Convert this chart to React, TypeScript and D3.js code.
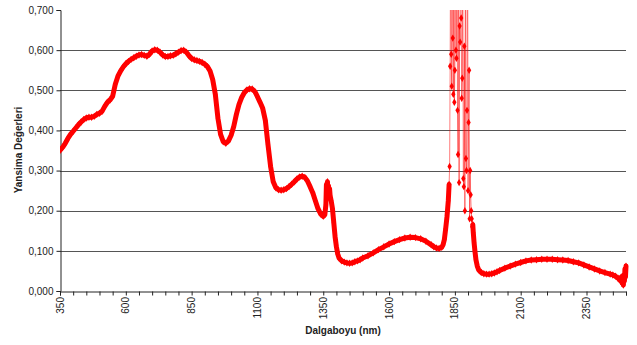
import { useEffect, useRef } from "react";
import * as d3 from "d3";

// reflectance spectrum
const mainNm = [
  350, 360, 370, 380, 390, 400, 410, 420, 430, 440, 450, 460, 470, 480, 490, 500, 510, 520, 530, 540,
  550, 560, 570, 580, 590, 600, 610, 620, 630, 640, 650, 660, 670, 680, 690, 700, 710, 720, 730, 740,
  750, 760, 770, 780, 790, 800, 810, 820, 830, 840, 850, 860, 870, 880, 890, 900, 910, 920, 930, 940,
  950, 960, 970, 980, 990, 1000, 1010, 1020, 1030, 1040, 1050, 1060, 1070, 1080, 1090, 1100, 1110, 1120,
  1130, 1140, 1150, 1160, 1170, 1180, 1190, 1200, 1210, 1220, 1230, 1240, 1250, 1260, 1270, 1280, 1290,
  1300, 1310, 1320, 1330, 1340, 1350, 1356, 1360, 1362, 1364, 1366, 1368, 1370, 1372, 1374, 1376, 1380,
  1385, 1390, 1395, 1400, 1405, 1410, 1420, 1430, 1440, 1450, 1460, 1470, 1480, 1490, 1500, 1520, 1540,
  1560, 1580, 1600, 1620, 1640, 1660, 1680, 1700, 1720, 1740, 1760, 1770, 1780, 1790, 1800, 1805, 1810,
  1815, 1820, 1825, 1828,
];
const mainVal = [
  0.35, 0.358, 0.368, 0.38, 0.39, 0.398, 0.406, 0.414, 0.421, 0.427, 0.431, 0.433, 0.433, 0.435, 0.44, 0.443, 0.448, 0.46, 0.47, 0.476,
  0.485, 0.515, 0.535, 0.548, 0.558, 0.566, 0.572, 0.577, 0.581, 0.585, 0.588, 0.589, 0.587, 0.585, 0.59, 0.598, 0.601, 0.6, 0.595, 0.588,
  0.584, 0.584, 0.586, 0.587, 0.591, 0.595, 0.599, 0.6, 0.595, 0.586, 0.579, 0.576, 0.574, 0.572, 0.569, 0.565, 0.559, 0.548, 0.527, 0.49,
  0.43, 0.39, 0.372, 0.368, 0.374, 0.388, 0.41, 0.44, 0.465, 0.482, 0.494, 0.501, 0.504, 0.503, 0.497, 0.484, 0.47, 0.455,
  0.425, 0.365, 0.31, 0.272, 0.257, 0.252, 0.251, 0.252, 0.255, 0.26, 0.266, 0.272, 0.279, 0.284, 0.286, 0.283, 0.274,
  0.26, 0.245, 0.225, 0.205, 0.192, 0.186, 0.19, 0.215, 0.265, 0.24, 0.272, 0.235, 0.262, 0.245, 0.255, 0.238, 0.225,
  0.205, 0.17, 0.135, 0.11, 0.092, 0.082, 0.075, 0.072, 0.07, 0.069, 0.07, 0.073, 0.075, 0.078, 0.082, 0.088, 0.095,
  0.103, 0.11, 0.117, 0.123, 0.128, 0.132, 0.134, 0.133, 0.13, 0.124, 0.115, 0.11, 0.107, 0.106, 0.109, 0.115, 0.128,
  0.155, 0.185, 0.225, 0.265,
];

// noisy water band around 1850 nm (goes off the top of the chart)
const noiseNm = [
  1828, 1830, 1832, 1834, 1836, 1838, 1840, 1842, 1844, 1846, 1848, 1850, 1852, 1854, 1856, 1858, 1860, 1862,
  1864, 1866, 1868, 1870, 1872, 1874, 1876, 1878, 1880, 1882, 1884, 1886, 1888, 1890, 1892, 1894, 1896, 1898,
  1900, 1902, 1904, 1906, 1908, 1910, 1912, 1914, 1916, 1918,
];
const noiseVal = [
  0.265, 0.31, 0.56, 0.95, 0.59, 0.51, 1.1, 0.63, 0.49, 0.9, 0.47, 0.55, 1.05, 0.6, 0.58, 0.88, 0.45, 0.34,
  0.98, 0.27, 0.66, 0.62, 1.2, 0.68, 0.48, 0.53, 0.92, 0.28, 0.26, 0.61, 0.2, 0.95, 0.33, 0.3, 0.45, 1.1,
  0.25, 0.42, 0.55, 0.18, 0.3, 0.24, 0.2, 0.18, 0.16, 0.165,
];

const tailNm = [
  1918, 1920, 1923, 1926, 1930, 1935, 1940, 1950, 1960, 1970, 1980, 1990, 2000, 2010, 2020, 2040, 2060, 2080,
  2100, 2120, 2140, 2160, 2180, 2200, 2220, 2240, 2260, 2280, 2300, 2320, 2340, 2360, 2380, 2400, 2420, 2440,
  2450, 2460, 2470, 2478, 2482, 2485, 2488, 2490, 2492, 2494, 2496, 2498, 2500,
];
const tailVal = [
  0.165, 0.145, 0.12, 0.1, 0.078, 0.062, 0.053, 0.046, 0.043, 0.042, 0.042, 0.043, 0.045, 0.048, 0.051, 0.057, 0.062, 0.067,
  0.071, 0.075, 0.077, 0.078, 0.079, 0.079, 0.079, 0.078, 0.077, 0.076, 0.073, 0.07, 0.065, 0.06, 0.055, 0.05, 0.046, 0.042,
  0.04, 0.037, 0.032, 0.026, 0.035, 0.02, 0.03, 0.015, 0.04, 0.025, 0.055, 0.035, 0.062,
];

const xLabels = [350, 600, 850, 1100, 1350, 1600, 1850, 2100, 2350];
const yTicks = [0, 0.1, 0.2, 0.3, 0.4, 0.5, 0.6, 0.7];

const W = 637;
const H = 345;
const PLOT = { left: 60, right: 626, top: 10, bottom: 291 };
const FONT = "Arial, 'Liberation Sans', sans-serif";

export default function App() {
  const svgRef = useRef<SVGSVGElement>(null);

  useEffect(() => {
    document.body.style.margin = "0";
    const svg = d3.select(svgRef.current);
    svg.selectAll("*").remove();

    const x = d3.scaleLinear().domain([350, 2500]).range([PLOT.left, PLOT.right]);
    const y = d3.scaleLinear().domain([0, 0.7]).range([PLOT.bottom, PLOT.top]);

    svg.append("rect").attr("width", W).attr("height", H).attr("fill", "#fff");

    svg.append("defs")
      .append("clipPath")
      .attr("id", "plot-clip")
      .append("rect")
      .attr("x", PLOT.left)
      .attr("y", PLOT.top)
      .attr("width", PLOT.right - PLOT.left + 6)
      .attr("height", PLOT.bottom - PLOT.top + 6);

    // gridlines
    svg.append("g")
      .selectAll("line")
      .data(yTicks.filter((t) => t > 0 && t < 0.7))
      .join("line")
      .attr("x1", PLOT.left)
      .attr("x2", PLOT.right)
      .attr("y1", (d) => Math.round(y(d)) + 0.5)
      .attr("y2", (d) => Math.round(y(d)) + 0.5)
      .attr("stroke", "#555")
      .attr("stroke-width", 1);

    // y axis
    const yAxis = svg.append("g")
      .attr("transform", `translate(${PLOT.left + 0.5},0)`)
      .call(
        d3.axisLeft(y)
          .tickValues(yTicks)
          .tickSize(4)
          .tickFormat((d) => d3.format(".3f")(d as number).replace(".", ","))
      );
    yAxis.select(".domain").attr("stroke", "#222");
    yAxis.selectAll(".tick line").attr("stroke", "#222");
    yAxis.selectAll(".tick text")
      .attr("font-family", FONT)
      .attr("font-size", 10)
      .attr("fill", "#222")
      .attr("x", -7);

    // x axis
    const xAxis = svg.append("g")
      .attr("transform", `translate(0,${PLOT.bottom + 0.5})`)
      .call(d3.axisBottom(x).tickValues(d3.range(350, 2501, 50)).tickSize(4).tickFormat(() => ""));
    xAxis.select(".domain").attr("stroke", "#222");
    xAxis.selectAll(".tick line").attr("stroke", "#222");

    svg.append("g")
      .selectAll("text")
      .data(xLabels)
      .join("text")
      .attr("transform", (d) => `translate(${x(d)},${PLOT.bottom + 6}) rotate(-90)`)
      .attr("text-anchor", "end")
      .attr("dy", "0.35em")
      .attr("font-family", FONT)
      .attr("font-size", 10)
      .attr("fill", "#222")
      .text((d) => d);

    // titles
    svg.append("text")
      .attr("transform", `translate(22,150) rotate(-90)`)
      .attr("text-anchor", "middle")
      .attr("font-family", FONT)
      .attr("font-size", 10)
      .attr("font-weight", "bold")
      .attr("fill", "#222")
      .text("Yansima Değerleri");

    svg.append("text")
      .attr("x", 343)
      .attr("y", 334)
      .attr("text-anchor", "middle")
      .attr("font-family", FONT)
      .attr("font-size", 10)
      .attr("font-weight", "bold")
      .attr("fill", "#222")
      .text("Dalgaboyu (nm)");

    // series
    const plot = svg.append("g").attr("clip-path", "url(#plot-clip)");
    const line = d3.line<[number, number]>().x((d) => x(d[0])).y((d) => y(d[1]));
    const diamond = d3.symbol().type(d3.symbolDiamond).size(16);

    const zip = (nm: number[], v: number[]) => nm.map((n, i) => [n, v[i]] as [number, number]);
    const segments = [
      { pts: zip(mainNm, mainVal), thick: true },
      { pts: zip(noiseNm, noiseVal), thick: false },
      { pts: zip(tailNm, tailVal), thick: true },
    ];

    segments.forEach((seg) => {
      plot.append("path")
        .datum(seg.pts)
        .attr("fill", "none")
        .attr("stroke", "#ff0000")
        .attr("stroke-opacity", seg.thick ? 1 : 0.5)
        .attr("stroke-width", seg.thick ? 5 : 1)
        .attr("stroke-linejoin", "round")
        .attr("stroke-linecap", "round")
        .attr("d", line);
      plot.append("g")
        .selectAll("path")
        .data(seg.pts)
        .join("path")
        .attr("transform", (d) => `translate(${x(d[0])},${y(d[1])})`)
        .attr("d", diamond)
        .attr("fill", "#ff0000");
    });
  }, []);

  return <svg ref={svgRef} width={W} height={H} style={{ display: "block" }} />;
}
